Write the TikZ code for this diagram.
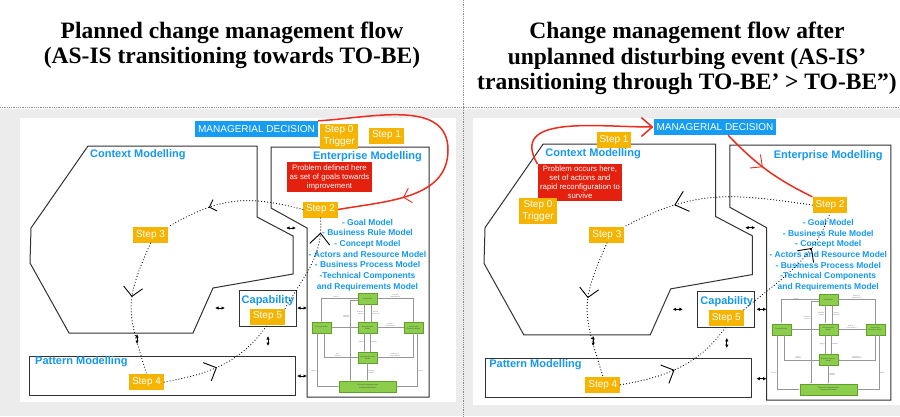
\documentclass[tikz,border=0pt]{standalone}
\usepackage{fontspec}
\setmainfont{Liberation Serif}
\setsansfont{Liberation Sans}
\usetikzlibrary{arrows.meta,decorations.markings}

\definecolor{mdblue}{RGB}{22,156,242}
\definecolor{lblblue}{RGB}{22,152,240}
\definecolor{steporange}{RGB}{245,180,0}
\definecolor{probred}{RGB}{228,32,14}
\definecolor{linered}{RGB}{236,44,30}
\definecolor{bggrey}{RGB}{236,236,236}
\definecolor{boxgreen}{RGB}{140,206,76}
\definecolor{boxgreenedge}{RGB}{95,160,45}
\definecolor{edgegrey}{RGB}{50,50,50}
\definecolor{minigrey}{RGB}{150,150,150}

\tikzset{
  outline/.style={draw=edgegrey, line width=1pt, line join=miter},
  regionlbl/.style={text=lblblue, font=\sffamily\bfseries\fontsize{11}{13}\selectfont, inner sep=0pt},
  stepbox/.style={fill=steporange, text=white, font=\sffamily\fontsize{10}{12}\selectfont, inner xsep=3pt, inner ysep=2pt, minimum height=16pt, align=center},
  mdbox/.style={fill=mdblue, text=white, font=\sffamily\fontsize{10}{12}\selectfont, inner xsep=3pt, inner ysep=0pt, minimum height=16pt},
  probbox/.style={fill=probred, text=white, font=\sffamily\fontsize{7.8}{9}\selectfont, inner xsep=2.5pt, inner ysep=2pt, align=center},
  modellist/.style={text=lblblue, font=\sffamily\bfseries\fontsize{8.5}{10.7}\selectfont, align=center, inner sep=0pt},
  titlelbl/.style={font=\bfseries\fontsize{23.5}{25.5}\selectfont, align=center, inner sep=0pt},
  sepline/.style={draw=black!45, line width=0.6pt, dash pattern=on 0.6pt off 1.2pt},
  dotpath/.style={draw=black, line width=1.2pt, line cap=round, dash pattern=on 0pt off 3pt},
  redline/.style={draw=linered, line width=1.5pt},
  dblarrow/.style={{Latex[length=3.5pt,width=3.5pt]}-{Latex[length=3.5pt,width=3.5pt]}, line width=0.9pt, draw=black},
  minibox/.style={fill=boxgreen, draw=boxgreenedge, line width=0.3pt, minimum width=19pt, minimum height=11pt, inner sep=0.3pt, font=\sffamily\fontsize{1.8}{2.1}\selectfont, text=black!75, align=center},
  miniline/.style={draw=minigrey, line width=0.4pt, -{Latex[length=1.3pt,width=1.3pt]}},
  minilbl/.style={font=\sffamily\fontsize{1.5}{1.8}\selectfont, text=black!60, inner sep=0.4pt, align=center},
  markarrow/.style n args={3}{postaction={decorate,decoration={markings,mark=at position #1 with {\arrow[line width=0.9pt]{Straight Barb[length=#2pt,width=#3pt]}}}}},
}

\newcommand{\panelbase}{%
  \draw[outline] (88,146) -- (257,146) -- (257,217) -- (293,236) -- (293,274) -- (213,288) -- (193,333) -- (69,333) -- (30,263) -- (31,228) -- cycle;
  \draw[outline] (271,147) -- (429,147) -- (429,397) -- (307,397) -- (307,228) -- (271,208) -- cycle;
  \node[regionlbl, anchor=west] (ctxlbl) at (90,155) {Context Modelling};
  \node[regionlbl] (entlbl) at (367.5,157) {Enterprise Modelling};
  \node[outline, minimum width=57pt, minimum height=36pt, inner sep=0pt] (cap) at (267.5,308) {};
  \node[regionlbl] (caplbl) at (268,301) {Capability};
  \node[stepbox] (s5) at (267.5,316.5) {Step 5};
  \node[outline, minimum width=266pt, minimum height=39pt, inner sep=0pt] (pat) at (162,375.5) {};
  \node[regionlbl, anchor=west] (patlbl) at (35,362) {Pattern Modelling};
  \node[stepbox] (s4) at (146.5,382) {Step 4};
  \node[stepbox] (s3) at (150.5,235) {Step 3};
  \node[modellist] (models) at (367.5,255) {- Goal Model\\- Business Rule Model\\- Concept Model\\- Actors and Resource Model\\- Business Process Model\\-Technical Components\\and Requirements Model};
  % double arrows between regions
  \coordinate (d1a) at (286,228); \coordinate (d1b) at (296,228);
  \coordinate (d2a) at (215,308); \coordinate (d2b) at (225,308);
  \coordinate (d3a) at (297,308); \coordinate (d3b) at (307,308);
  \coordinate (d4a) at (137,334); \coordinate (d4b) at (137,344);
  \coordinate (d5a) at (268,336); \coordinate (d5b) at (268,346);
  \coordinate (d6a) at (297,376); \coordinate (d6b) at (307,376);
  \draw[dblarrow] (d1a) -- (d1b);
  \draw[dblarrow] (d2a) -- (d2b);
  \draw[dblarrow] (d3a) -- (d3b);
  \draw[dblarrow] (d4a) -- (d4b);
  \draw[dblarrow] (d5a) -- (d5b);
  \draw[dblarrow] (d6a) -- (d6b);
  % dotted cycle (common part)
  \draw[dotpath, markarrow={0.42}{9}{19}] (s3.south) to[out=-114,in=107,looseness=1.3] (s4.north);
  \draw[dotpath, markarrow={0.45}{10}{20}] (s4.east) to[out=10,in=-125] (s5.south);
  % mini model diagram
  \node[minibox] (mg) at (367.5,298.5) {Goal Model};
  \node[minibox] (mc) at (321.5,327.5) {Concept Model};
  \node[minibox] (mb) at (367.5,327.5) {Business Rule\\Model};
  \node[minibox] (ma) at (413.5,327.5) {Actors and\\Resource Model};
  \node[minibox] (mp) at (367.5,357.5) {Business Process\\Model};
  \node[minibox, minimum width=57pt] (mt) at (367.5,386.5) {Technical Component and\\Requirements Model};
  \draw[miniline] (mg.west) -| node[minilbl, pos=0.3, above] {refers to} (mc.north);
  \draw[miniline] (ma.north) |- node[minilbl, pos=0.75, above] {defines, is\\responsible for} (mg.east);
  \draw[miniline] ([xshift=-3pt]mg.south) -- node[minilbl, left] {motivates,\\requires} ([xshift=-3pt]mb.north);
  \draw[miniline] ([xshift=4pt]mb.north) -- node[minilbl, right] {defines,\\affected by} ([xshift=4pt]mg.south);
  \draw[miniline] (mb.west) -- (mc.east);
  \draw[miniline] (ma.west) -- node[minilbl, above] {defines, is\\responsible for} (mb.east);
  \draw[miniline] ([xshift=-3pt]mb.south) -- node[minilbl, left] {triggers} ([xshift=-3pt]mp.north);
  \draw[miniline] ([xshift=3pt]mp.north) -- node[minilbl, right] {supports} ([xshift=3pt]mb.south);
  \draw[miniline] (ma.south) |- node[minilbl, pos=0.75, above] {performs, is\\responsible for} (mp.east);
  \draw[miniline] (mp.west) -| node[minilbl, pos=0.3, above] {uses,\\produces} ([xshift=3pt]mc.south);
  \draw[miniline] (mp.south) -- node[minilbl, right] {motivates,\\requires} (mt.north);
  \draw[miniline] ([xshift=-4pt]mc.south) |- node[minilbl, pos=0.35, left] {refers to} (mt.west);
  \draw[miniline] ([xshift=4pt]ma.south) |- node[minilbl, pos=0.35, right] {defines} (mt.east);
  \draw[miniline] ([yshift=-2pt]mg.west) -| node[minilbl, pos=0.6, left] {motivates,\\requires} ([xshift=-17pt]mt.north);
}

\begin{document}
\begin{tikzpicture}[x=1pt,y=-1pt]
\useasboundingbox (0,0) rectangle (900,416);
\fill[white] (0,0) rectangle (900,416);
\fill[bggrey] (0,109) rectangle (900,416);
\fill[white] (20,118) rectangle (456,402);
\fill[white] (473,118) rectangle (900,405);
\draw[sepline] (0,107) -- (900,107);
\draw[sepline] (463,0) -- (463,416);

% titles
\node[titlelbl] (title1) at (232,45.5) {Planned change management flow\\(AS-IS transitioning towards TO-BE)};
\node[titlelbl] (title2) at (687,58.5) {Change management flow after\\unplanned disturbing event (AS-IS’\\transitioning through TO-BE’ > TO-BE”)};

% common parts of both panels
\begin{scope}[name prefix=L-]
  \panelbase
\end{scope}
\begin{scope}[name prefix=R-, shift={(453.4,-4.9)}, scale=1.02]
  \panelbase
\end{scope}

% ---------- left panel specific ----------
\node[mdbox] (L-md) at (256.5,129) {MANAGERIAL DECISION};
\node[stepbox] (L-s0) at (339,136.5) {Step 0\\Trigger};
\node[stepbox] (L-s1) at (386.5,135.5) {Step 1};
\node[probbox] (L-prob) at (329.5,177) {Problem defined here\\as set of goals towards\\improvement};
\node[stepbox] (L-s2) at (320.5,209.5) {Step 2};
\coordinate (L-loop) at (448,150);
\draw[redline, markarrow={0.77}{7}{15}] (L-md.north east) to[out=3,in=90] (L-loop) to[out=-90,in=10] (L-s2.east);
\draw[dotpath, markarrow={0.68}{6}{12}] (L-s2.west) to[out=165,in=30,looseness=1.1] (L-s3.north east);
\draw[dotpath, markarrow={0.85}{11}{20}] (L-s5.north east) to[out=60,in=-85] (L-s2.south);

% ---------- right panel specific ----------
\node[mdbox] (R-md) at (715,127) {MANAGERIAL DECISION};
\node[stepbox] (R-s1) at (614,140) {Step 1};
\node[probbox] (R-prob) at (580,182.5) {Problem occurs here,\\set of actions and\\rapid reconfiguration to\\survive};
\node[stepbox] (R-s0) at (538,211) {Step 0\\Trigger};
\node[stepbox] (R-s2) at (830,205) {Step 2};
\draw[redline, -{Straight Barb[length=11pt,width=19pt]}] (R-prob.north west) to[out=120,in=180,looseness=1.2] (R-md.west);
\draw[redline, markarrow={0.45}{9}{17}] (R-md.-32) to[bend right=10] (R-s2.north west);
\draw[dotpath, markarrow={0.72}{12}{21}] (R-s2.west) to[out=172,in=28,looseness=1.1] (R-s3.north east);
\draw[dotpath, markarrow={0.7}{10}{20}] (R-s5.north east) to[out=40,in=-110] (R-s2.south);
\end{tikzpicture}
\end{document}
